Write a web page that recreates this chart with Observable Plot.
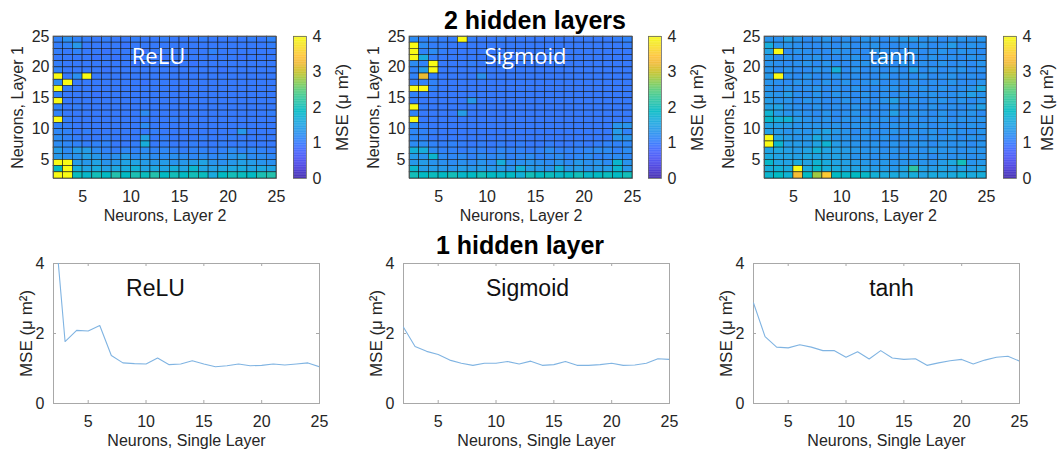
<!DOCTYPE html>
<html><head><meta charset="utf-8">
<script src="https://cdn.jsdelivr.net/npm/d3@7"></script>
<script src="https://cdn.jsdelivr.net/npm/@observablehq/plot@0.6"></script>
<style>
body{margin:0;background:#fff;}
#root{position:relative;width:1059px;height:453px;overflow:hidden;font-family:"Liberation Sans",Arial,sans-serif;}
#root svg{position:absolute;overflow:visible;}
.title{position:absolute;font-weight:bold;font-size:25px;line-height:25px;white-space:nowrap;transform:translateX(-50%);color:#000;font-family:"Liberation Sans",Arial,sans-serif;}
</style></head>
<body><div id="root"></div>
<script>
// ---------- data ----------
const layer2Cells = [2,3,4,5,6,7,8,9,10,11,12,13,14,15,16,17,18,19,20,21,22,23,24];          // columns (x)
const layer1Cells = [24,23,22,21,20,19,18,17,16,15,14,13,12,11,10,9,8,7,6,5,4,3,2];          // rows top -> bottom (y)
const heatXTicks = [5,10,15,20,25];
const heatYTicks = [5,10,15,20,25];
const cbTicks = [0,1,2,3,4];
const neurons = [2,3,4,5,6,7,8,9,10,11,12,13,14,15,16,17,18,19,20,21,22,23,24,25];
const lineXTicks = [5,10,15,20,25];
const lineYTicks = [0,2,4];

const reluGrid = [
[1.1,1.25,1.1,1.05,1.0,1.05,1.0,1.0,1.05,1.0,1.0,1.05,1.0,1.0,1.0,1.05,1.0,1.0,1.0,1.0,1.05,1.0,1.1],
[1.05,1.1,1.35,1.0,1.0,1.0,1.0,0.95,1.0,1.0,1.0,1.0,1.0,1.0,1.0,1.0,1.0,1.0,1.0,1.0,1.0,1.0,1.05],
[1.05,1.0,1.1,1.0,1.0,0.95,1.0,1.0,1.0,0.95,1.0,1.0,1.0,1.0,1.0,1.0,1.1,1.0,1.0,1.0,1.0,1.0,1.0],
[1.0,1.0,1.0,1.0,0.95,1.0,0.95,1.0,1.0,1.0,1.0,0.95,1.0,1.0,1.0,1.0,1.0,1.0,1.0,0.95,1.0,1.0,1.0],
[1.05,1.0,1.0,1.0,1.0,1.0,1.0,1.0,0.95,1.0,1.0,1.0,1.0,1.0,0.95,1.0,1.0,1.0,1.0,1.0,1.0,1.0,1.0],
[1.1,1.0,1.0,1.0,1.0,0.95,1.0,1.0,1.0,1.0,1.0,1.0,1.0,1.0,1.0,1.0,1.0,0.95,1.0,1.0,1.0,1.0,1.0],
[4.5,1.0,1.25,4.5,1.0,1.0,1.0,1.0,1.0,1.0,1.0,1.0,1.0,1.0,1.0,1.0,1.0,1.0,1.0,1.0,1.0,1.0,1.0],
[1.2,4.5,1.0,1.0,1.0,1.0,1.0,1.0,1.0,0.95,1.0,1.0,1.0,1.0,1.0,1.0,1.0,1.0,1.0,1.0,1.0,1.0,1.0],
[4.5,1.05,1.0,1.0,1.0,1.0,1.0,1.0,1.0,1.0,1.0,1.0,1.0,1.0,1.0,1.0,1.0,1.0,1.0,1.0,1.0,1.0,1.0],
[1.1,1.0,1.0,1.0,0.95,1.0,1.0,1.0,1.0,1.0,1.0,1.0,1.0,1.0,1.0,1.0,1.0,1.0,1.0,1.0,1.0,1.0,1.0],
[4.5,1.0,1.0,1.0,1.0,1.0,1.0,1.0,1.0,1.0,1.0,1.0,1.0,1.0,1.0,1.0,1.0,1.0,1.0,1.0,1.0,1.0,1.0],
[1.1,1.0,1.05,1.0,1.0,1.0,1.0,1.0,1.0,1.0,1.0,1.0,1.0,1.0,1.0,1.0,1.0,1.0,1.0,1.0,1.0,1.0,1.0],
[1.1,1.0,1.0,1.0,1.0,1.0,1.0,1.0,1.0,1.2,1.0,1.0,1.0,1.0,1.0,1.0,1.0,1.0,1.0,1.0,1.0,1.0,1.05],
[4.5,1.05,1.0,1.0,1.0,1.0,1.0,1.0,1.0,1.0,1.0,1.0,1.05,1.0,1.0,1.0,1.0,1.0,1.0,1.0,1.0,1.0,1.0],
[1.1,1.05,1.0,1.0,1.0,1.0,1.0,1.0,1.0,1.2,1.0,1.0,1.0,1.0,1.0,1.0,1.0,1.0,1.0,1.0,1.0,1.0,1.0],
[1.15,1.1,1.0,1.05,1.0,1.0,1.0,1.0,1.0,1.0,1.05,1.0,1.0,1.0,1.0,1.0,1.0,1.0,1.0,1.35,1.0,1.0,1.0],
[1.2,1.1,1.05,1.0,1.0,1.05,1.0,1.0,1.0,1.45,1.0,1.05,1.0,1.0,1.0,1.05,1.0,1.0,1.05,1.0,1.0,1.0,1.0],
[1.2,1.15,1.1,1.05,1.1,1.1,1.0,1.0,1.05,1.65,1.0,1.05,1.0,1.0,1.05,1.0,1.0,1.05,1.0,1.05,1.0,1.0,1.0],
[1.4,1.2,1.4,1.4,1.2,1.1,1.05,1.15,1.1,1.2,1.1,1.15,1.1,1.05,1.1,1.1,1.05,1.1,1.2,1.1,1.15,1.1,1.05],
[1.35,1.25,1.3,1.45,1.35,1.2,1.25,1.4,1.2,1.3,1.2,1.2,1.25,1.2,1.15,1.2,1.15,1.2,1.3,1.4,1.2,1.2,1.15],
[4.5,4.5,1.4,1.35,1.5,1.3,1.35,1.5,1.5,1.4,1.35,1.4,1.3,1.35,1.4,1.5,1.3,1.25,1.35,1.45,1.4,1.3,1.25],
[1.9,4.5,1.65,1.5,1.6,1.45,1.55,1.6,1.7,1.5,1.55,1.5,1.65,1.5,1.8,1.5,1.45,1.5,1.55,1.6,1.5,1.55,1.5],
[4.5,4.5,1.95,1.85,2.0,1.9,2.1,1.9,2.05,1.95,2.1,1.9,2.0,1.9,2.0,1.95,1.6,1.9,2.0,1.95,1.9,2.05,2.1]
];

const sigmoidGrid = [
[1.2,1.1,1.1,1.05,1.05,4.5,1.05,1.0,1.0,1.05,1.0,1.0,1.0,1.0,1.0,1.0,1.0,1.0,1.0,1.0,1.0,1.05,1.1],
[4.5,1.2,1.05,1.05,1.0,1.0,1.0,1.0,1.0,1.0,1.0,1.0,1.0,1.0,1.0,1.0,1.0,1.0,1.0,1.0,1.0,1.0,1.05],
[4.5,1.1,1.2,1.05,1.0,1.0,1.0,1.0,1.0,1.0,1.0,1.0,1.0,1.0,1.0,1.0,1.0,1.0,1.0,1.0,1.0,1.0,1.0],
[4.5,1.6,1.05,1.0,1.0,1.0,1.0,1.0,1.0,1.0,1.0,1.0,1.0,1.0,1.0,1.0,1.0,1.0,1.0,1.0,1.0,1.0,1.0],
[1.2,1.1,4.5,1.0,1.0,1.0,1.05,1.0,1.0,1.0,1.0,1.0,1.0,1.0,1.0,1.0,1.0,1.0,1.0,1.0,1.0,1.0,1.0],
[1.1,1.4,4.5,1.0,1.0,1.0,1.0,1.0,1.0,1.0,1.0,1.0,1.0,1.0,1.0,1.0,1.0,1.0,1.0,1.0,1.0,1.0,1.0],
[1.1,3.2,1.05,1.0,1.0,1.0,1.0,1.25,1.0,1.0,1.0,1.0,1.0,1.0,1.0,1.0,1.0,1.0,1.0,1.0,1.0,1.0,1.0],
[1.05,1.1,1.1,1.0,1.0,1.0,1.0,1.0,1.0,1.0,1.0,1.0,1.0,1.0,1.0,1.0,1.0,1.0,1.0,1.0,1.0,1.0,1.0],
[4.5,4.5,1.1,1.0,1.0,1.0,1.0,1.0,1.0,1.0,1.0,1.0,1.0,1.0,1.0,1.0,1.0,1.0,1.0,1.0,1.0,1.0,1.0],
[1.1,1.05,1.0,1.0,1.0,1.0,1.0,1.0,1.0,1.0,1.0,1.0,1.0,1.0,1.0,1.0,1.0,1.0,1.0,1.0,1.0,1.0,1.0],
[1.05,1.0,1.0,1.0,1.0,1.0,1.35,1.0,1.0,1.0,1.0,1.0,1.0,1.0,1.0,1.0,1.0,1.0,1.0,1.0,1.0,1.0,1.0],
[4.5,1.05,1.0,1.0,1.0,1.0,1.0,1.0,1.0,1.0,1.0,1.0,1.0,1.0,1.0,1.0,1.0,1.0,1.0,1.0,1.0,1.0,1.0],
[1.1,1.0,1.0,1.0,1.0,1.4,1.0,1.0,1.0,1.0,1.0,1.0,1.0,1.0,1.0,1.0,1.0,1.0,1.0,1.0,1.0,1.0,1.0],
[4.5,1.0,1.0,1.0,1.0,1.0,1.0,1.0,1.0,1.0,1.0,1.0,1.0,1.0,1.0,1.0,1.0,1.0,1.0,1.0,1.0,1.0,1.0],
[1.2,1.05,1.0,1.0,1.0,1.0,1.0,1.0,1.0,1.0,1.0,1.0,1.0,1.0,1.0,1.0,1.0,1.0,1.0,1.0,1.0,1.3,1.3],
[1.15,1.1,1.05,1.0,1.0,1.0,1.0,1.0,1.0,1.0,1.0,1.0,1.0,1.0,1.0,1.0,1.0,1.0,1.0,1.0,1.0,1.4,1.1],
[1.15,1.1,1.0,1.0,1.0,1.0,1.0,1.0,1.0,1.0,1.0,1.0,1.0,1.0,1.0,1.0,1.0,1.0,1.0,1.0,1.0,1.35,1.3],
[1.2,1.2,1.1,1.05,1.1,1.05,1.0,1.05,1.0,1.05,1.0,1.05,1.0,1.0,1.05,1.0,1.0,1.05,1.0,1.05,1.1,1.1,1.15],
[1.7,1.65,1.2,1.1,1.1,1.05,1.1,1.1,1.05,1.15,1.1,1.1,1.05,1.1,1.2,1.1,1.1,1.1,1.15,1.2,1.2,1.1,1.2],
[1.4,1.3,1.8,1.2,1.15,1.2,1.1,1.2,1.15,1.2,1.1,1.15,1.2,1.1,1.15,1.2,1.1,1.15,1.2,1.1,1.15,1.2,1.15],
[1.35,1.4,1.3,1.25,1.2,1.25,1.2,1.3,1.2,1.65,1.2,1.25,1.3,1.25,1.2,1.3,1.2,1.35,1.25,1.3,1.2,1.8,1.3],
[1.8,1.4,1.4,1.35,1.3,1.4,1.35,1.4,1.35,1.4,1.3,1.7,1.4,1.35,1.3,1.7,1.35,1.4,1.3,1.35,1.4,1.8,1.35],
[2.0,1.9,1.95,1.9,2.0,1.85,1.9,2.0,1.9,1.85,1.9,1.7,2.0,1.9,1.95,1.85,1.9,2.0,1.85,1.9,1.95,1.9,2.0]
];

const tanhGrid = [
[1.3,1.25,1.45,1.3,1.2,1.25,1.3,1.2,1.25,1.2,1.3,1.25,1.2,1.3,1.35,1.4,1.25,1.3,1.2,1.25,1.3,1.25,1.3],
[1.65,1.3,1.3,1.25,1.2,1.2,1.25,1.2,1.3,1.2,1.25,1.3,1.2,1.2,1.25,1.2,1.3,1.2,1.25,1.4,1.2,1.3,1.25],
[1.5,4.5,1.2,1.3,1.25,1.2,1.2,1.3,1.25,1.2,1.2,1.3,1.25,1.2,1.2,1.3,1.2,1.25,1.3,1.2,1.3,1.25,1.2],
[1.35,1.2,1.3,1.2,1.25,1.3,1.2,1.2,1.25,1.3,1.2,1.2,1.3,1.25,1.2,1.25,1.2,1.3,1.2,1.25,1.2,1.3,1.25],
[1.3,1.25,1.2,1.25,1.3,1.2,1.3,1.2,1.2,1.25,1.3,1.2,1.25,1.2,1.3,1.2,1.25,1.2,1.3,1.2,1.25,1.2,1.3],
[1.3,1.2,1.3,1.2,1.2,1.3,1.25,1.7,1.2,1.3,1.2,1.25,1.2,1.3,1.2,1.45,1.2,1.3,1.2,1.25,1.3,1.2,1.25],
[1.35,4.5,1.25,1.2,1.3,1.2,1.2,1.3,1.2,1.25,1.2,1.2,1.3,1.2,1.25,1.2,1.3,1.2,1.25,1.3,1.2,1.25,1.2],
[1.3,1.25,1.2,1.3,1.25,1.2,1.3,1.2,1.3,1.2,1.25,1.3,1.2,1.25,1.2,1.3,1.2,1.25,1.2,1.3,1.2,1.2,1.3],
[1.3,1.2,1.3,1.2,1.25,1.3,1.2,1.25,1.2,1.3,1.2,1.2,1.25,1.3,1.2,1.25,1.3,1.2,1.3,1.2,1.25,1.3,1.55],
[1.35,1.3,1.4,1.25,1.2,1.3,1.2,1.3,1.25,1.2,1.3,1.2,1.25,1.2,1.3,1.2,1.25,1.3,1.2,1.25,1.3,1.45,1.3],
[1.4,1.3,1.3,1.2,1.3,1.25,1.2,1.2,1.3,1.2,1.25,1.2,1.3,1.45,1.2,1.3,1.2,1.25,1.3,1.2,1.3,1.2,1.3],
[1.45,1.5,1.3,1.25,1.2,1.3,1.2,1.25,1.2,1.3,1.2,1.25,1.2,1.3,1.2,1.25,1.2,1.3,1.2,1.25,1.2,1.3,1.45],
[1.75,1.4,1.3,1.3,1.25,1.2,1.3,1.2,1.25,1.3,1.2,1.2,1.25,1.45,1.2,1.3,1.25,1.2,1.3,1.2,1.25,1.3,1.2],
[1.85,1.7,1.75,1.4,1.3,1.25,1.3,1.2,1.3,1.25,1.3,1.2,1.3,1.2,1.25,1.3,1.2,1.25,1.3,1.2,1.3,1.25,1.3],
[1.5,1.45,1.4,1.3,1.3,1.3,1.25,1.3,1.2,1.3,1.25,1.3,1.2,1.3,1.25,1.2,1.3,1.2,1.25,1.3,1.2,1.3,1.25],
[1.45,1.4,1.3,1.35,1.3,1.4,1.5,1.35,1.3,1.2,1.3,1.2,1.25,1.3,1.2,1.3,1.25,1.3,1.2,1.3,1.25,1.2,1.3],
[4.5,1.5,1.4,1.3,1.35,1.6,1.4,1.3,1.3,1.25,1.3,1.2,1.3,1.2,1.25,1.3,1.2,1.3,1.25,1.3,1.2,1.3,1.25],
[4.5,1.8,1.4,1.4,1.35,1.5,1.75,1.4,1.3,1.3,1.25,1.3,1.2,1.3,1.2,1.25,1.3,1.2,1.3,1.25,1.3,1.2,1.3],
[1.5,1.55,1.45,1.4,1.5,1.7,1.5,1.45,1.4,1.35,1.3,1.3,1.25,1.3,1.2,1.3,1.25,1.35,1.3,1.3,1.25,1.3,1.3],
[1.6,1.5,1.5,1.45,1.55,1.5,1.45,1.5,1.4,1.3,1.3,1.25,1.3,1.25,1.3,1.25,1.3,1.2,1.3,1.25,1.3,1.25,1.3],
[1.85,1.55,1.5,1.6,1.5,1.75,1.6,1.5,1.45,1.4,1.35,1.3,1.35,1.3,1.3,1.35,1.3,1.3,1.4,1.55,2.0,1.3,1.35],
[1.65,1.7,1.6,4.5,1.6,1.85,1.65,1.6,1.5,1.5,1.45,1.4,1.4,1.35,1.5,2.2,1.45,1.4,1.5,1.4,1.45,1.4,1.5],
[1.8,1.9,1.75,3.3,1.9,2.8,3.5,1.9,1.85,1.9,1.85,1.7,1.6,1.6,1.55,1.65,1.5,1.6,1.55,1.6,1.7,1.6,1.65]
];

const reluLine    = [5.6,1.77,2.09,2.07,2.23,1.37,1.16,1.14,1.13,1.30,1.11,1.13,1.22,1.13,1.05,1.08,1.13,1.08,1.09,1.13,1.10,1.13,1.16,1.05];
const sigmoidLine = [2.18,1.63,1.49,1.40,1.24,1.15,1.09,1.15,1.15,1.20,1.13,1.21,1.09,1.11,1.20,1.09,1.09,1.11,1.15,1.09,1.10,1.15,1.28,1.26];
const tanhLine    = [2.87,1.91,1.61,1.59,1.68,1.61,1.51,1.51,1.32,1.48,1.27,1.51,1.30,1.26,1.28,1.09,1.16,1.22,1.26,1.13,1.24,1.32,1.35,1.21];

// ---------- parula colormap ----------
const parulaStops = [
[0.2422,0.1504,0.6603],[0.2647,0.1978,0.7952],[0.2783,0.2559,0.8991],[0.2810,0.3228,0.9579],
[0.2699,0.3892,0.9906],[0.2206,0.4603,0.9973],[0.1786,0.5289,0.9682],[0.1540,0.5902,0.9218],
[0.1248,0.6459,0.8883],[0.0689,0.6948,0.8394],[0.0067,0.7312,0.7660],[0.1408,0.7584,0.6842],
[0.2161,0.7843,0.5923],[0.3406,0.8008,0.4789],[0.5044,0.7993,0.3480],[0.6720,0.7793,0.2227],
[0.8203,0.7498,0.1535],[0.9393,0.7288,0.2100],[0.9970,0.7659,0.2199],[0.9786,0.8386,0.1766],
[0.9597,0.9135,0.1423],[0.9769,0.9839,0.0805]
].map(([r,g,b]) => d3.rgb(r*255, g*255, b*255).formatHex());
const parula = d3.piecewise(d3.interpolateRgb, parulaStops);
const colorSpec = {type: "linear", domain: [0, 4], interpolate: parula, clamp: true};

const FONT = '"Liberation Sans", Arial, Helvetica, sans-serif';
const baseStyle = {fontFamily: FONT, fontSize: "16px", color: "#262626", background: "transparent", overflow: "visible"};

const root = document.getElementById("root");
function place(el, left, top) { el.style.left = left + "px"; el.style.top = top + "px"; root.appendChild(el); }

function heatmap(grid, name, labelDx, frameW) {
  const cells = grid.flatMap((row, r) => row.map((v, c) => ({x: layer2Cells[c], y: layer1Cells[r], v})));
  return Plot.plot({
    width: 53 + frameW + 14, height: 230,
    marginLeft: 53, marginRight: 14, marginTop: 36, marginBottom: 52,
    style: baseStyle,
    x: {domain: [2, 25], ticks: heatXTicks, tickFormat: "d", tickSize: 0, tickPadding: 12, label: null},
    y: {domain: [2, 25], ticks: heatYTicks, tickFormat: "d", tickSize: 0, tickPadding: 4, label: null},
    color: colorSpec,
    marks: [
      Plot.rect(cells, {x1: "x", x2: d => d.x + 1, y1: "y", y2: d => d.y + 1, fill: "v", stroke: "#111", strokeWidth: 0.6, strokeOpacity: 0.9}),
      Plot.frame({stroke: "#555", strokeWidth: 0.8}),
      Plot.text([name], {text: d => d, frameAnchor: "top", dx: labelDx, dy: 27, lineAnchor: "bottom", textAnchor: "middle", fill: "white", fontSize: 22, fontFamily: '"Open Sans", sans-serif'}),
      Plot.text(["Neurons, Layer 2"], {text: d => d, frameAnchor: "bottom", dy: 42, lineAnchor: "bottom", textAnchor: "middle", fill: "#262626"}),
      Plot.text(["Neurons, Layer 1"], {text: d => d, frameAnchor: "left", dx: -31, rotate: -90, lineAnchor: "bottom", textAnchor: "middle", fill: "#262626"})
    ]
  });
}

function colorbar(labelDx) {
  const steps = d3.range(0, 4, 0.02);
  return Plot.plot({
    width: 69, height: 230,
    marginLeft: 13, marginRight: 43, marginTop: 36, marginBottom: 52,
    style: baseStyle,
    x: {domain: [0, 1], axis: null},
    y: {domain: [0, 4], ticks: cbTicks, tickFormat: "d", tickSize: 0, tickPadding: 6, label: null, axis: "right"},
    color: colorSpec,
    marks: [
      Plot.rect(steps, {x1: 0, x2: 1, y1: d => d, y2: d => d + 0.025, fill: d => d + 0.01}),
      Plot.frame({stroke: "#666", strokeWidth: 0.8}),
      Plot.text(["MSE (μ m²)"], {text: d => d, frameAnchor: "right", dx: labelDx, rotate: -90, lineAnchor: "bottom", textAnchor: "middle", fill: "#262626", fontSize: 17})
    ]
  });
}

function lineChart(vals, name, labelDx) {
  const pts = neurons.map((n, i) => ({n, v: vals[i]}));
  return Plot.plot({
    width: 329, height: 223,
    marginLeft: 53, marginRight: 10, marginTop: 33, marginBottom: 50,
    style: baseStyle,
    x: {domain: [2, 25], ticks: lineXTicks, tickFormat: "d", tickSize: 0, tickPadding: 12, label: null},
    y: {domain: [0, 4], ticks: lineYTicks, tickFormat: "d", tickSize: 0, tickPadding: 9, label: null},
    marks: [
      Plot.frame({stroke: "#a8a8a8", strokeWidth: 1}),
      Plot.tickX(lineXTicks, {x: d => d, insetTop: 137, stroke: "#a8a8a8"}),
      Plot.tickX(lineXTicks, {x: d => d, insetBottom: 137, stroke: "#a8a8a8"}),
      Plot.tickY(lineYTicks, {y: d => d, insetRight: 263, stroke: "#a8a8a8"}),
      Plot.tickY(lineYTicks, {y: d => d, insetLeft: 263, stroke: "#a8a8a8"}),
      Plot.line(pts, {x: "n", y: "v", stroke: "#80b4e2", strokeWidth: 1.1, clip: true}),
      Plot.text([name], {text: d => d, frameAnchor: "top", dx: labelDx, dy: 32, lineAnchor: "bottom", textAnchor: "middle", fill: "#111", fontSize: 23}),
      Plot.text(["Neurons, Single Layer"], {text: d => d, frameAnchor: "bottom", dy: 42, lineAnchor: "bottom", textAnchor: "middle", fill: "#262626"}),
      Plot.text(["MSE (μ m²)"], {text: d => d, frameAnchor: "left", dx: -22, rotate: -90, lineAnchor: "bottom", textAnchor: "middle", fill: "#262626", fontSize: 17})
    ]
  });
}

// top row: heatmaps + colorbars
place(heatmap(reluGrid, "ReLU", -6.5, 223), 0, 0);
place(colorbar(41), 280, 0);
place(heatmap(sigmoidGrid, "Sigmoid", 4.5, 223), 356, 0);
place(colorbar(41), 635, 0);
place(heatmap(tanhGrid, "tanh", 17, 222), 711, 0);
place(colorbar(36), 990, 0);

// bottom row: line charts
place(lineChart(reluLine, "ReLU", -31), 0, 230);
place(lineChart(sigmoidLine, "Sigmoid", -9), 350, 230);
place(lineChart(tanhLine, "tanh", 5), 700, 230);

// titles
function title(text, cx, top) {
  const d = document.createElement("div");
  d.className = "title"; d.textContent = text;
  d.style.left = cx + "px"; d.style.top = top + "px";
  root.appendChild(d);
}
title("2 hidden layers", 535, 8);
title("1 hidden layer", 520, 233);
</script>
</body></html>
